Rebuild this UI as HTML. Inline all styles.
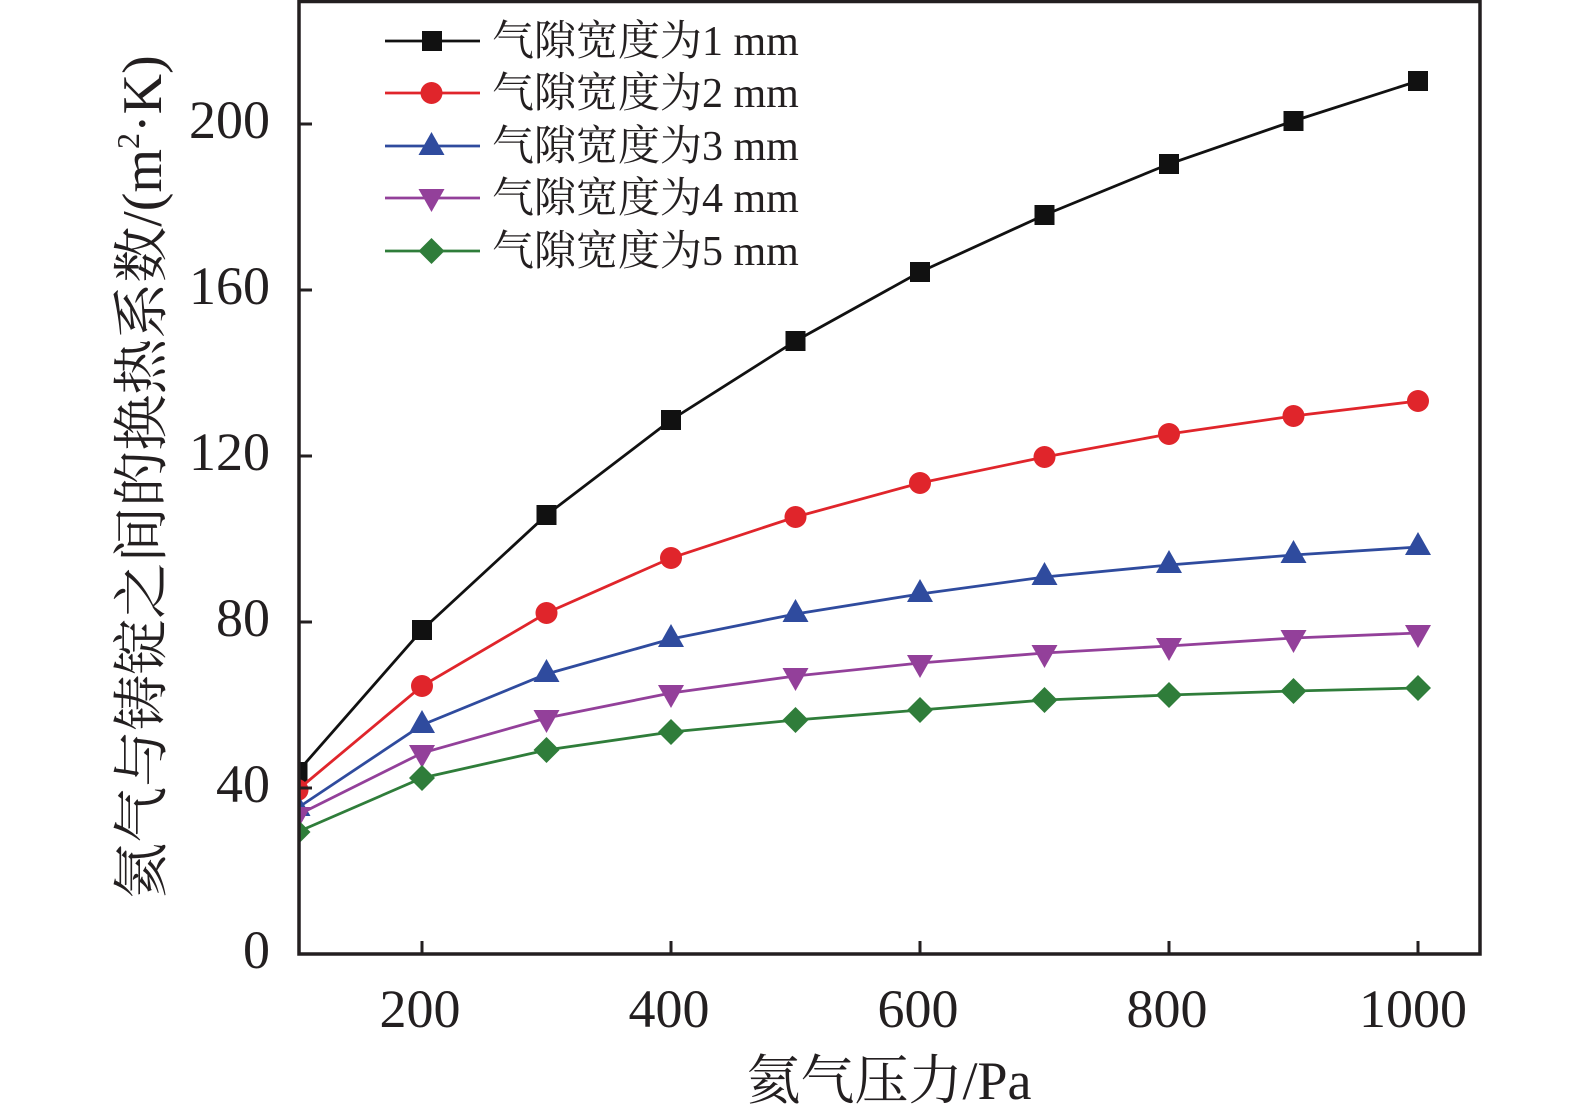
<!DOCTYPE html>
<html>
<head>
<meta charset="utf-8">
<style>
  html, body { margin: 0; padding: 0; background: #ffffff; }
  svg { display: block; }
  text { font-family: "Liberation Serif", "Noto Serif CJK SC", serif; fill: #231f20; }
</style>
</head>
<body>
<svg width="1575" height="1118" viewBox="0 0 1575 1118" xmlns="http://www.w3.org/2000/svg">
  <defs>
    <clipPath id="plot">
      <rect x="299" y="1" width="1181" height="953"/>
    </clipPath>
  </defs>
  <rect x="0" y="0" width="1575" height="1118" fill="#ffffff"/>

  <!-- series -->
  <g clip-path="url(#plot)">
    <!-- black -->
    <polyline fill="none" stroke="#111111" stroke-width="2.8" points="297.5,772 422,630 546.5,515 671,420 795.5,341 920,272 1044.5,215 1169,164 1293.5,121 1418,81"/>
    <g fill="#111111">
      <rect x="287.5" y="762" width="20" height="20"/>
      <rect x="412" y="620" width="20" height="20"/>
      <rect x="536.5" y="505" width="20" height="20"/>
      <rect x="661" y="410" width="20" height="20"/>
      <rect x="785.5" y="331" width="20" height="20"/>
      <rect x="910" y="262" width="20" height="20"/>
      <rect x="1034.5" y="205" width="20" height="20"/>
      <rect x="1159" y="154" width="20" height="20"/>
      <rect x="1283.5" y="111" width="20" height="20"/>
      <rect x="1408" y="71" width="20" height="20"/>
    </g>
    <!-- red -->
    <polyline fill="none" stroke="#e0252b" stroke-width="2.8" points="297.5,790 422,686 546.5,613 671,558 795.5,517 920,483 1044.5,457 1169,434 1293.5,416 1418,401"/>
    <g fill="#e0252b">
      <circle cx="297.5" cy="790" r="11"/>
      <circle cx="422" cy="686" r="11"/>
      <circle cx="546.5" cy="613" r="11"/>
      <circle cx="671" cy="558" r="11"/>
      <circle cx="795.5" cy="517" r="11"/>
      <circle cx="920" cy="483" r="11"/>
      <circle cx="1044.5" cy="457" r="11"/>
      <circle cx="1169" cy="434" r="11"/>
      <circle cx="1293.5" cy="416" r="11"/>
      <circle cx="1418" cy="401" r="11"/>
    </g>
    <!-- blue -->
    <polyline fill="none" stroke="#2f4b9e" stroke-width="2.8" points="297.5,808 422,725 546.5,674 671,639 795.5,614 920,594 1044.5,577 1169,565 1293.5,555 1418,547"/>
    <g fill="#2f4b9e">
      <polygon points="297.5,793 284.5,816 310.5,816"/>
      <polygon points="422,710 409,733 435,733"/>
      <polygon points="546.5,659 533.5,682 559.5,682"/>
      <polygon points="671,624 658,647 684,647"/>
      <polygon points="795.5,599 782.5,622 808.5,622"/>
      <polygon points="920,579 907,602 933,602"/>
      <polygon points="1044.5,562 1031.5,585 1057.5,585"/>
      <polygon points="1169,550 1156,573 1182,573"/>
      <polygon points="1293.5,540 1280.5,563 1306.5,563"/>
      <polygon points="1418,532 1405,555 1431,555"/>
    </g>
    <!-- purple -->
    <polyline fill="none" stroke="#93409a" stroke-width="2.8" points="297.5,815 422,753 546.5,718 671,693 795.5,676 920,663 1044.5,653 1169,646 1293.5,638 1418,633"/>
    <g fill="#93409a">
      <polygon points="284.5,807 310.5,807 297.5,830"/>
      <polygon points="409,745 435,745 422,768"/>
      <polygon points="533.5,710 559.5,710 546.5,733"/>
      <polygon points="658,685 684,685 671,708"/>
      <polygon points="782.5,668 808.5,668 795.5,691"/>
      <polygon points="907,655 933,655 920,678"/>
      <polygon points="1031.5,645 1057.5,645 1044.5,668"/>
      <polygon points="1156,638 1182,638 1169,661"/>
      <polygon points="1280.5,630 1306.5,630 1293.5,653"/>
      <polygon points="1405,625 1431,625 1418,648"/>
    </g>
    <!-- green -->
    <polyline fill="none" stroke="#2f7d3a" stroke-width="2.8" points="297.5,832 422,778 546.5,750 671,732 795.5,720 920,710 1044.5,700 1169,695 1293.5,691 1418,688"/>
    <g fill="#2f7d3a">
      <polygon points="297.5,819 310.5,832 297.5,845 284.5,832"/>
      <polygon points="422,765 435,778 422,791 409,778"/>
      <polygon points="546.5,737 559.5,750 546.5,763 533.5,750"/>
      <polygon points="671,719 684,732 671,745 658,732"/>
      <polygon points="795.5,707 808.5,720 795.5,733 782.5,720"/>
      <polygon points="920,697 933,710 920,723 907,710"/>
      <polygon points="1044.5,687 1057.5,700 1044.5,713 1031.5,700"/>
      <polygon points="1169,682 1182,695 1169,708 1156,695"/>
      <polygon points="1293.5,678 1306.5,691 1293.5,704 1280.5,691"/>
      <polygon points="1418,675 1431,688 1418,701 1405,688"/>
    </g>
  </g>

  <!-- frame -->
  <rect x="299" y="1.5" width="1181" height="952.5" fill="none" stroke="#231f20" stroke-width="3.5"/>

  <!-- ticks -->
  <g stroke="#231f20" stroke-width="3">
    <line x1="299" y1="788" x2="312" y2="788"/>
    <line x1="299" y1="622" x2="312" y2="622"/>
    <line x1="299" y1="456" x2="312" y2="456"/>
    <line x1="299" y1="290" x2="312" y2="290"/>
    <line x1="299" y1="124" x2="312" y2="124"/>
    <line x1="422" y1="954" x2="422" y2="941"/>
    <line x1="671" y1="954" x2="671" y2="941"/>
    <line x1="920" y1="954" x2="920" y2="941"/>
    <line x1="1169" y1="954" x2="1169" y2="941"/>
    <line x1="1418" y1="954" x2="1418" y2="941"/>
  </g>

  <!-- y tick labels -->
  <g font-size="54" text-anchor="end">
    <text x="270" y="968">0</text>
    <text x="270" y="802">40</text>
    <text x="270" y="636">80</text>
    <text x="270" y="470">120</text>
    <text x="270" y="304">160</text>
    <text x="270" y="138">200</text>
  </g>

  <!-- x tick labels -->
  <g font-size="54" text-anchor="middle">
    <text x="420" y="1027">200</text>
    <text x="669" y="1027">400</text>
    <text x="918" y="1027">600</text>
    <text x="1167" y="1027">800</text>
    <text x="1413" y="1027">1000</text>
  </g>

  <!-- axis titles -->
  <text x="889" y="1099" font-size="54" text-anchor="middle">氦气压力/Pa</text>
  <text transform="translate(161,477) rotate(-90)" font-size="56" text-anchor="middle">氦气与铸锭之间的换热系数/(m<tspan font-size="32" dy="-22">2</tspan><tspan dy="22">·K)</tspan></text>

  <!-- legend -->
  <g>
    <line x1="385" y1="41" x2="480" y2="41" stroke="#111111" stroke-width="2.8"/>
    <rect x="422" y="31" width="20" height="20" fill="#111111"/>
    <line x1="385" y1="93" x2="480" y2="93" stroke="#e0252b" stroke-width="2.8"/>
    <circle cx="431.5" cy="93" r="11" fill="#e0252b"/>
    <line x1="385" y1="146" x2="480" y2="146" stroke="#2f4b9e" stroke-width="2.8"/>
    <polygon points="431.5,132 418.5,155 444.5,155" fill="#2f4b9e"/>
    <line x1="385" y1="198" x2="480" y2="198" stroke="#93409a" stroke-width="2.8"/>
    <polygon points="418.5,189 444.5,189 431.5,212" fill="#93409a"/>
    <line x1="385" y1="251" x2="480" y2="251" stroke="#2f7d3a" stroke-width="2.8"/>
    <polygon points="431.5,238 444.5,251 431.5,264 418.5,251" fill="#2f7d3a"/>
  </g>
  <g font-size="42">
    <text x="492" y="55">气隙宽度为1 mm</text>
    <text x="492" y="107">气隙宽度为2 mm</text>
    <text x="492" y="160">气隙宽度为3 mm</text>
    <text x="492" y="212">气隙宽度为4 mm</text>
    <text x="492" y="265">气隙宽度为5 mm</text>
  </g>
</svg>
</body>
</html>
